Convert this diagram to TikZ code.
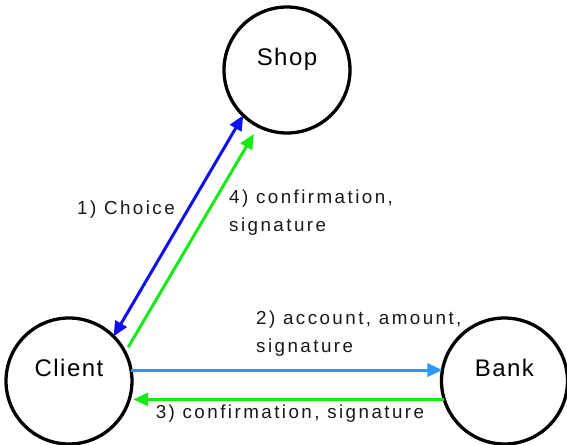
\documentclass[tikz,border=0pt]{standalone}
\usepackage{fontspec}
\setmainfont{Liberation Sans}
\newfontfamily\lblfont[LetterSpace=13]{Liberation Sans}
\newfontfamily\nodefont[LetterSpace=6]{Liberation Sans}
\usetikzlibrary{arrows.meta}
\definecolor{cblue}{RGB}{15,15,240}
\definecolor{clight}{RGB}{45,150,255}
\definecolor{cgreen}{RGB}{20,235,20}
\tikzset{
  party/.style={draw=black, line width=3.3pt, circle, minimum size=126pt, inner sep=0pt, outer sep=0pt,
    font=\nodefont\fontsize{24}{28}\selectfont},
  lbl/.style={inner sep=0pt, font=\lblfont\fontsize{18.8}{27.5}\selectfont, text=black!90},
  conn/.style={line width=3pt, -{Triangle[length=15pt,width=13pt]}},
}
\begin{document}
\begin{tikzpicture}[x=1pt,y=-1pt]
\useasboundingbox (0,0) rectangle (567,444);
\node[party] (shop) at (287,70) {\raisebox{5pt}[0pt][0pt]{Shop}};
\node[party] (client) at (69,381) {\raisebox{5pt}[0pt][0pt]{Client}};
\node[party] (bank) at (504.5,381) {\raisebox{5pt}[0pt][0pt]{Bank}};

\draw[conn, cblue, {Triangle[length=15pt,width=13pt]}-{Triangle[length=15pt,width=13pt]}] (client.45) -- (shop.226);
\draw[conn, cgreen, shorten <=6pt, shorten >=9pt] (client.27) -- (shop.243);
\draw[conn, clight] (client.10) -- (bank.170);
\draw[conn, cgreen, shorten >=4pt] (bank.197.5) -- (client.-17.5);

\node[lbl] (l1) at (126,210) {1) Choice};
\node[lbl, align=left, anchor=north west] (l4) at (229,190) {4) confirmation,\\signature};
\node[lbl, align=left, anchor=north west] (l2) at (256,311) {2) account, amount,\\signature};
\node[lbl] (l3) at (290,414) {3) confirmation, signature};
\end{tikzpicture}
\end{document}
